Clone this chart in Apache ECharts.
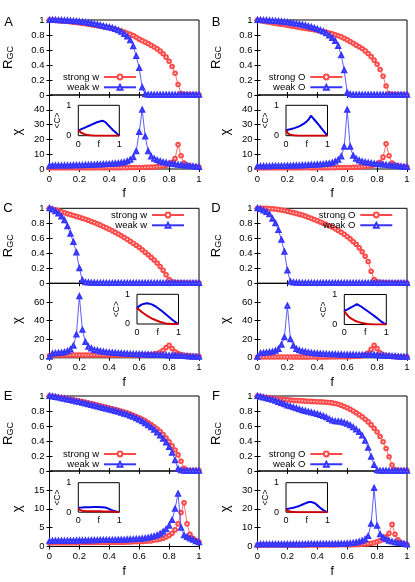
<!DOCTYPE html>
<html>
<head>
<meta charset="utf-8">
<title>R_GC and chi versus f</title>
<script src="https://cdn.jsdelivr.net/npm/echarts@6.0.0/dist/echarts.min.js"></script>
<style>
html, body { margin: 0; padding: 0; background: #fff; }
#chart { width: 415px; height: 582px; }
</style>
</head>
<body>
<div id="chart"></div>
<script>
// f values of the main curves (step 0.02)
const F = [0, 0.02, 0.04, 0.06, 0.08, 0.1, 0.12, 0.14, 0.16, 0.18,
  0.2, 0.22, 0.24, 0.26, 0.28, 0.3, 0.32, 0.34, 0.36, 0.38,
  0.4, 0.42, 0.44, 0.46, 0.48, 0.5, 0.52, 0.54, 0.56, 0.58,
  0.6, 0.62, 0.64, 0.66, 0.68, 0.7, 0.72, 0.74, 0.76, 0.78,
  0.8, 0.82, 0.84, 0.86, 0.88, 0.9, 0.92, 0.94, 0.96, 0.98, 1];
// f values of the insets (step 0.05)
const FI = [0, 0.05, 0.1, 0.15, 0.2, 0.25, 0.3, 0.35, 0.4, 0.45, 0.5,
  0.55, 0.6, 0.65, 0.7, 0.75, 0.8, 0.85, 0.9, 0.95, 1];

// chi axis ranges per panel A..F
const chiMax = [50, 50, 80, 80, 20, 40];
const chiStep = [10, 10, 20, 20, 5, 10];

// ---- A ----
const aRgcStrong = [1, .998, .995, .992, .989, .985, .98, .976, .971, .966,
  .96, .955, .95, .944, .938, .932, .925, .918, .911, .904,
  .895, .886, .876, .865, .852, .838, .824, .81, .792, .77,
  .745, .725, .705, .685, .662, .64, .615, .585, .55, .505,
  .45, .38, .29, .14, .02, .01, .008, .006, .005, .004, .003];
const aRgcWeak = [1, 1, .999, .998, .997, .995, .993, .99, .987, .983,
  .979, .974, .969, .963, .956, .948, .94, .931, .921, .911,
  .905, .893, .88, .865, .845, .815, .78, .73, .65, .52,
  .36, .1, .01, .005, .005, .005, .005, .005, .005, .005,
  .005, .005, .005, .005, .005, .005, .005, .005, .005, .005, .005];
const aChiStrong = [.8, .8, .8, .8, .8, .8, .8, .8, .8, .8,
  .8, .8, .82, .82, .84, .84, .86, .86, .88, .88,
  .9, .9, .92, .92, .94, .95, .96, .97, .98, 1,
  1, 1.05, 1.1, 1.15, 1.25, 1.4, 1.6, 1.8, 2.1, 2.6,
  3.3, 4.5, 7, 16.5, 9, 4, 2.6, 2, 1.7, 1.5, 1.3];
const aChiWeak = [2.2, 2.2, 2.3, 2.3, 2.3, 2.4, 2.4, 2.4, 2.5, 2.5,
  2.6, 2.6, 2.7, 2.7, 2.8, 2.9, 3, 3.1, 3.2, 3.3,
  3.4, 3.5, 3.7, 3.9, 4.2, 4.5, 5.2, 6.3, 8, 12,
  25, 40, 22, 12, 8.5, 7, 6, 5.2, 4.6, 4.2,
  3.8, 3.5, 3.2, 2.9, 2.7, 2.4, 2.2, 2, 1.8, 1.5, 1.3];
const aInsetStrong = [.18, .12, .08, .05, .03, .02, .01, .005, 0, 0, 0, 0, 0, 0, 0, 0, 0, 0, 0, 0, 0];
const aInsetWeak = [.18, .2, .23, .26, .29, .32, .35, .38, .41, .44, .46, .48, .49, .455, .39, .32, .25, .18, .12, .06, 0];

// ---- B ----
const bRgcStrong = [1, .992, .985, .977, .97, .962, .955, .949, .943, .936,
  .93, .923, .916, .909, .902, .895, .889, .882, .876, .869,
  .862, .854, .845, .836, .826, .815, .803, .79, .775, .756,
  .735, .713, .69, .665, .643, .62, .588, .553, .512, .465,
  .41, .34, .25, .12, .015, .01, .008, .006, .005, .004, .003];
const bRgcWeak = [1, .999, .998, .996, .994, .991, .988, .984, .98, .975,
  .97, .964, .958, .951, .944, .936, .927, .917, .906, .894,
  .88, .865, .848, .825, .795, .76, .72, .655, .53, .33,
  .03, .01, .005, .005, .005, .005, .005, .005, .005, .005,
  .005, .005, .005, .005, .005, .005, .005, .005, .005, .005, .005];
const bChiStrong = [.8, .8, .8, .8, .8, .8, .8, .8, .8, .8,
  .8, .8, .82, .82, .84, .84, .86, .86, .88, .88,
  .9, .9, .92, .92, .94, .95, .96, .97, .98, 1,
  1, 1.05, 1.1, 1.2, 1.3, 1.5, 1.7, 1.9, 2.2, 2.7,
  3.3, 4.5, 8, 17, 9, 4, 2.6, 2, 1.7, 1.5, 1.3];
const bChiWeak = [1.8, 1.8, 1.9, 1.9, 1.9, 2, 2, 2, 2.1, 2.1,
  2.2, 2.2, 2.3, 2.3, 2.4, 2.5, 2.6, 2.7, 2.8, 2.9,
  3, 3.1, 3.3, 3.5, 3.8, 4.2, 5, 6.2, 8.5, 15,
  40, 15, 9, 7, 5.8, 5, 4.6, 4.2, 3.9, 3.6,
  3.4, 3.2, 3, 2.8, 2.6, 2.4, 2.2, 2, 1.7, 1.5, 1.3];
const bInsetStrong = [.18, .07, .035, .02, .01, .005, 0, 0, 0, 0, 0, 0, 0, 0, 0, 0, 0, 0, 0, 0, 0];
const bInsetWeak = [.18, .195, .21, .23, .25, .275, .3, .33, .37, .415, .47, .54, .66, .58, .5, .42, .34, .25, .17, .08, 0];

// ---- C ----
const cRgcStrong = [1, .99, .98, .966, .953, .94, .928, .916, .904, .892,
  .88, .867, .854, .84, .825, .81, .793, .776, .758, .739,
  .72, .7, .679, .657, .634, .61, .586, .561, .535, .508,
  .48, .448, .415, .38, .345, .31, .27, .225, .175, .115,
  .05, .02, .012, .01, .008, .006, .005, .005, .005, .005, .005];
const cRgcWeak = [1, .985, .96, .93, .89, .84, .76, .66, .55, .41,
  .2, .04, .015, .01, .008, .006, .005, .005, .005, .005,
  .005, .005, .005, .005, .005, .005, .005, .005, .005, .005,
  .005, .005, .005, .005, .005, .005, .005, .005, .005, .005,
  .005, .005, .005, .005, .005, .005, .005, .005, .005, .005, .005];
const cChiStrong = [2.5, 3, 3, 3, 3, 3, 3, 3, 3, 3,
  3, 3, 3, 3, 3, 3, 3, 3, 3, 3,
  3, 3, 3, 3, 3, 3, 3, 3, 3, 3,
  3, 3.1, 3.2, 3.4, 3.6, 3.9, 4.5, 6, 8, 11,
  13.5, 10, 6.5, 4.5, 3.5, 2.8, 2.4, 2, 1.8, 1.6, 1.5];
const cChiWeak = [1, 4.5, 5, 5.2, 5.5, 6, 7, 9, 13, 25,
  66, 30, 17, 12, 10, 8.5, 7.8, 7, 6.5, 6.1,
  5.8, 5.5, 5.3, 5, 4.8, 4.6, 4.4, 4.2, 4, 3.9,
  3.8, 3.7, 3.6, 3.5, 3.4, 3.2, 3.1, 3, 2.9, 2.8,
  2.6, 2.5, 2.4, 2.2, 2.1, 1.8, 1.6, 1.4, 1.2, 1.1, 1];
const cInsetStrong = [.54, .48, .42, .37, .32, .27, .23, .19, .16, .13, .1, .075, .055, .035, .02, .01, .005, .002, 0, 0, 0];
const cInsetWeak = [.54, .6, .645, .675, .69, .695, .685, .66, .63, .59, .54, .49, .435, .38, .32, .26, .2, .145, .09, .04, 0];

// ---- D ----
const dRgcStrong = [1, 1, 1, 1, .998, .995, .99, .985, .978, .97,
  .96, .951, .942, .932, .921, .91, .896, .881, .866, .851,
  .835, .818, .801, .784, .767, .75, .728, .705, .681, .655,
  .625, .593, .558, .52, .475, .42, .36, .29, .16, .05,
  .02, .012, .01, .008, .006, .005, .005, .005, .005, .005, .005];
const dRgcWeak = [1, .99, .97, .95, .92, .86, .8, .71, .58, .42,
  .17, .02, .01, .008, .006, .005, .005, .005, .005, .005,
  .005, .005, .005, .005, .005, .005, .005, .005, .005, .005,
  .005, .005, .005, .005, .005, .005, .005, .005, .005, .005,
  .005, .005, .005, .005, .005, .005, .005, .005, .005, .005, .005];
const dChiStrong = [.8, .8, .8, .8, .8, .8, .8, .8, .8, .8,
  .8, .8, .82, .82, .84, .84, .86, .86, .88, .88,
  .9, .92, .94, .96, .98, 1, 1.02, 1.05, 1.1, 1.15,
  1.2, 1.3, 1.4, 1.6, 1.9, 2.3, 3.2, 5, 9, 13.5,
  10, 5.5, 3.2, 2.2, 1.8, 1.5, 1.3, 1.2, 1.1, 1.05, 1];
const dChiWeak = [1, 5, 5.3, 5.6, 6, 6.5, 7.5, 9.5, 14, 22,
  56, 20, 13, 9.5, 8, 7, 6.4, 5.8, 5.3, 5,
  4.6, 4.4, 4.2, 4, 3.9, 3.8, 3.7, 3.6, 3.5, 3.4,
  3.3, 3.2, 3.2, 3.1, 3.1, 3, 3, 3, 3, 3.2,
  2.8, 2.6, 2.4, 2.2, 2.1, 1.8, 1.6, 1.4, 1.2, 1.1, 1];
const dInsetStrong = [.45, .35, .27, .21, .17, .13, .1, .08, .06, .045, .03, .02, .01, .005, 0, 0, 0, 0, 0, 0, 0];
const dInsetWeak = [.45, .49, .52, .56, .6, .64, .68, .64, .6, .55, .5, .45, .4, .35, .3, .245, .19, .135, .08, .035, 0];

// ---- E ----
const eRgcStrong = [1, .995, .99, .984, .978, .972, .965, .957, .949, .941,
  .933, .925, .916, .907, .898, .889, .879, .869, .859, .849,
  .839, .829, .819, .808, .797, .785, .772, .758, .743, .727,
  .71, .69, .668, .644, .618, .59, .56, .525, .485, .44,
  .39, .335, .28, .215, .13, .035, .01, .005, .005, .005, .005];
const eRgcWeak = [1, .993, .986, .979, .971, .963, .955, .946, .937, .928,
  .919, .91, .9, .89, .88, .87, .86, .85, .84, .83,
  .82, .81, .8, .789, .777, .765, .752, .738, .722, .704,
  .685, .663, .638, .611, .582, .55, .515, .475, .43, .38,
  .32, .245, .145, .03, .01, .005, .005, .005, .005, .005, .005];
const eChiStrong = [1, 1, 1, 1, 1, 1, 1, 1, 1, 1,
  1.05, 1.05, 1.05, 1.05, 1.05, 1.1, 1.1, 1.1, 1.1, 1.1,
  1.1, 1.12, 1.12, 1.15, 1.15, 1.15, 1.18, 1.2, 1.25, 1.28,
  1.3, 1.35, 1.4, 1.45, 1.5, 1.7, 1.8, 2, 2.2, 2.5,
  2.9, 3.5, 4.4, 6, 9, 11.6, 6, 3.2, 2.2, 1.6, 1.2];
const eChiWeak = [1.4, 1.5, 1.5, 1.5, 1.5, 1.5, 1.55, 1.55, 1.55, 1.6,
  1.6, 1.6, 1.6, 1.6, 1.65, 1.65, 1.65, 1.7, 1.7, 1.7,
  1.7, 1.75, 1.75, 1.8, 1.8, 1.8, 1.85, 1.9, 1.95, 2,
  2, 2.1, 2.2, 2.35, 2.5, 2.7, 3, 3.4, 3.9, 4.6,
  5.5, 7, 10, 14, 5, 3, 2.5, 2.1, 1.8, 1.4, 1.1];
const eInsetStrong = [.12, .07, .05, .04, .035, .032, .03, .03, .03, .03, .028, .028, .026, .025, .022, .02, .02, .015, .01, .005, 0];
const eInsetWeak = [.15, .155, .16, .165, .17, .17, .17, .175, .175, .175, .175, .172, .17, .16, .14, .11, .08, .055, .03, .015, 0];

// ---- F ----
const fRgcStrong = [1, .994, .987, .981, .975, .97, .965, .961, .957, .953,
  .95, .947, .944, .941, .938, .935, .932, .93, .928, .926,
  .924, .922, .92, .917, .913, .908, .9, .89, .877, .861,
  .843, .823, .801, .777, .751, .722, .69, .655, .615, .57,
  .52, .46, .39, .3, .19, .08, .015, .01, .005, .005, .005];
const fRgcWeak = [1, .99, .98, .97, .96, .95, .936, .921, .906, .89,
  .875, .862, .849, .836, .823, .81, .8, .79, .78, .77,
  .76, .748, .734, .716, .695, .672, .662, .66, .656, .645,
  .63, .61, .585, .555, .52, .475, .405, .31, .19, .08,
  .01, .005, .005, .005, .005, .005, .005, .005, .005, .005, .005];
const fChiStrong = [.8, .8, .8, .8, .8, .8, .8, .8, .8, .8,
  .8, .8, .8, .8, .8, .8, .8, .8, .8, .8,
  .82, .82, .84, .84, .86, .86, .88, .88, .9, .9,
  .9, .95, 1, 1.05, 1.1, 1.2, 1.35, 1.5, 1.7, 2,
  2.5, 3.1, 4, 5.2, 7, 11.7, 6.5, 3.5, 2, 1.4, 1];
const fChiWeak = [1.1, 1.2, 1.2, 1.2, 1.2, 1.2, 1.2, 1.2, 1.2, 1.2,
  1.2, 1.2, 1.2, 1.25, 1.25, 1.25, 1.25, 1.3, 1.3, 1.3,
  1.3, 1.3, 1.3, 1.3, 1.3, 1.3, 1.35, 1.4, 1.45, 1.5,
  1.6, 1.75, 1.9, 2.1, 2.5, 3, 3.8, 5.5, 12, 31,
  11, 6.5, 4.8, 3.8, 3.1, 2.6, 2.3, 2, 1.7, 1.4, 1.1];
const fInsetStrong = [.1, .04, .02, .01, .005, 0, 0, 0, 0, 0, 0, 0, 0, 0, 0, 0, 0, 0, 0, 0, 0];
const fInsetWeak = [.1, .115, .13, .145, .16, .18, .2, .23, .26, .29, .32, .345, .35, .33, .3, .24, .18, .12, .07, .03, 0];

const FONT = 'Liberation Sans, Arial, Helvetica, sans-serif';
const RED = '#ff4a4a';
const BLUE = '#3535ff';
const colLeft = [49.5, 257.5];
const rowTop = [20, 208.3, 396];
const W = 149.5, H = 75;
const chiH = [74, 74.5, 75.5];

const panels = [
  { label: 'A', col: 0, row: 0, names: ['strong w', 'weak w'], rgc: [aRgcStrong, aRgcWeak], chi: [aChiStrong, aChiWeak], inset: [aInsetStrong, aInsetWeak], leg: [278, 72], box: [78.3, 105.3, 41, 30.4], lab: [8.5, 22] },
  { label: 'B', col: 1, row: 0, names: ['strong O', 'weak O'], rgc: [bRgcStrong, bRgcWeak], chi: [bChiStrong, bChiWeak], inset: [bInsetStrong, bInsetWeak], leg: [71.7, 72], box: [286, 105.3, 41.5, 30.4], lab: [216, 22] },
  { label: 'C', col: 0, row: 1, names: ['strong w', 'weak w'], rgc: [cRgcStrong, cRgcWeak], chi: [cChiStrong, cChiWeak], inset: [cInsetStrong, cInsetWeak], leg: [230, 210], box: [137, 294.3, 41.5, 29.7], lab: [8, 208] },
  { label: 'D', col: 1, row: 1, names: ['strong O', 'weak O'], rgc: [dRgcStrong, dRgcWeak], chi: [dChiStrong, dChiWeak], inset: [dInsetStrong, dInsetWeak], leg: [21.7, 210], box: [344.3, 294.5, 42, 30], lab: [216, 208] },
  { label: 'E', col: 0, row: 2, names: ['strong w', 'weak w'], rgc: [eRgcStrong, eRgcWeak], chi: [eChiStrong, eChiWeak], inset: [eInsetStrong, eInsetWeak], leg: [278, 449], box: [78.3, 482.7, 41, 29.5], lab: [8, 396.5] },
  { label: 'F', col: 1, row: 2, names: ['strong O', 'weak O'], rgc: [fRgcStrong, fRgcWeak], chi: [fChiStrong, fChiWeak], inset: [fInsetStrong, fInsetWeak], leg: [71.7, 449], box: [286, 482.7, 41.5, 29.5], lab: [216, 396.5] }
];

const grid = [], xAxis = [], yAxis = [], series = [], legend = [], graphic = [];

function frame(left, top, width, height, z) {
  grid.push({ left, top, width, height, show: true, borderColor: '#000', borderWidth: 1,
    backgroundColor: z ? '#fff' : 'transparent', z: z || 0 });
  return grid.length - 1;
}

function label(show, size, margin) {
  return { show, fontSize: size || 9.5, margin: margin || 5, color: '#000', fontFamily: FONT };
}

function axis(gi, pos, min, max, step, extra) {
  const isX = pos === 'bottom' || pos === 'top';
  const list = isX ? xAxis : yAxis;
  list.push(Object.assign({
    type: 'value', gridIndex: gi, position: pos, min, max, interval: step,
    axisLine: { show: false },
    axisTick: { show: true, inside: true, length: 3, lineStyle: { color: '#000', width: 1 } },
    axisLabel: label(false),
    splitLine: { show: false }
  }, extra));
  return list.length - 1;
}

function curve(name, xs, ys, xi, yi, strong) {
  const color = strong ? RED : BLUE;
  series.push({
    name, type: 'line', xAxisIndex: xi, yAxisIndex: yi,
    data: xs.map((f, i) => [f, ys[i]]),
    symbol: strong ? 'emptyCircle' : 'emptyTriangle',
    symbolSize: strong ? 3.6 : 4,
    showAllSymbol: true,
    lineStyle: { width: 0.8, color },
    itemStyle: { color, borderWidth: 0.7 },
    emphasis: { disabled: true },
    z: strong ? 2 : 3
  });
}

panels.forEach((p, k) => {
  const left = colLeft[p.col], top = rowTop[p.row];

  // upper plot: R_GC
  const g1 = frame(left, top, W, H);
  const x1 = axis(g1, 'bottom', 0, 1, 0.2);
  axis(g1, 'top', 0, 1, 0.2);
  const y1 = axis(g1, 'left', 0, 1, 0.2, {
    axisLabel: label(true),
    name: '{r|R}{s|GC}', nameLocation: 'middle', nameRotate: 90, nameGap: 34,
    nameTextStyle: { color: '#000', fontFamily: FONT,
      rich: { r: { fontSize: 13, fontFamily: FONT, color: '#000' },
              s: { fontSize: 9, fontFamily: FONT, color: '#000', padding: [6, 0, 0, 0] } } }
  });
  axis(g1, 'right', 0, 1, 0.2);
  curve(p.names[0], F, p.rgc[0], x1, y1, true);
  curve(p.names[1], F, p.rgc[1], x1, y1, false);

  // lower plot: chi
  const g2 = frame(left, top + H, W, chiH[p.row]);
  const x2 = axis(g2, 'bottom', 0, 1, 0.2, {
    axisLabel: label(true),
    name: 'f', nameLocation: 'middle', nameGap: 19,
    nameTextStyle: { fontSize: 12, fontFamily: FONT, color: '#000' }
  });
  axis(g2, 'top', 0, 1, 0.2);
  const y2 = axis(g2, 'left', 0, chiMax[k], chiStep[k], {
    axisLabel: Object.assign(label(true), { showMaxLabel: false }),
    name: 'χ', nameLocation: 'middle', nameRotate: 90, nameGap: 26,
    nameTextStyle: { fontSize: 13, fontFamily: FONT, color: '#000' }
  });
  axis(g2, 'right', 0, chiMax[k], chiStep[k]);
  curve(p.names[0] + ' chi', F, p.chi[0], x2, y2, true);
  curve(p.names[1] + ' chi', F, p.chi[1], x2, y2, false);

  // inset: <C>
  const b = p.box;
  const g3 = frame(b[0], b[1], b[2], b[3], 10);
  xAxis.push({ type: 'value', gridIndex: g3, min: 0, max: 1, interval: 0.5, z: 11,
    axisLine: { show: false }, axisTick: { show: false }, splitLine: { show: false },
    axisLabel: Object.assign(label(true, 9, 4), { formatter: v => (v === 0.5 ? 'f' : String(v)) }) });
  yAxis.push({ type: 'value', gridIndex: g3, min: 0, max: 1, interval: 1, z: 11,
    axisLine: { show: false }, axisTick: { show: false }, splitLine: { show: false },
    axisLabel: label(true, 9, 7),
    name: '<C>', nameLocation: 'middle', nameRotate: 90, nameGap: 5,
    nameTextStyle: { fontSize: 8.5, fontFamily: FONT, color: '#000' } });
  const xi = xAxis.length - 1, yi = yAxis.length - 1;
  [[p.inset[1], '#0000e6'], [p.inset[0], '#d00000']].forEach(([ys, color], j) => {
    series.push({ name: p.label + ' inset ' + j, type: 'line', xAxisIndex: xi, yAxisIndex: yi,
      data: FI.map((f, i) => [f, ys[i]]), symbol: 'none', z: 12,
      lineStyle: { width: 2, color }, itemStyle: { color }, emphasis: { disabled: true } });
  });

  legend.push({
    data: p.names, orient: 'vertical', align: 'right', right: p.leg[0], top: p.leg[1],
    itemWidth: 32, itemHeight: 6, itemGap: 0.3, padding: 0, selectedMode: false,
    textStyle: { fontSize: 9.5, lineHeight: 10, fontFamily: FONT, color: '#000' }
  });

  graphic.push({ type: 'text', x: p.lab[0], y: p.lab[1],
    style: { text: p.label, fontSize: 13, fontFamily: FONT, fill: '#000', align: 'center', verticalAlign: 'middle' } });
});

const chart = echarts.init(document.getElementById('chart'), null, { renderer: 'canvas' });
chart.setOption({
  animation: false,
  backgroundColor: '#fff',
  grid, xAxis, yAxis, series, legend, graphic
});
</script>
</body>
</html>
